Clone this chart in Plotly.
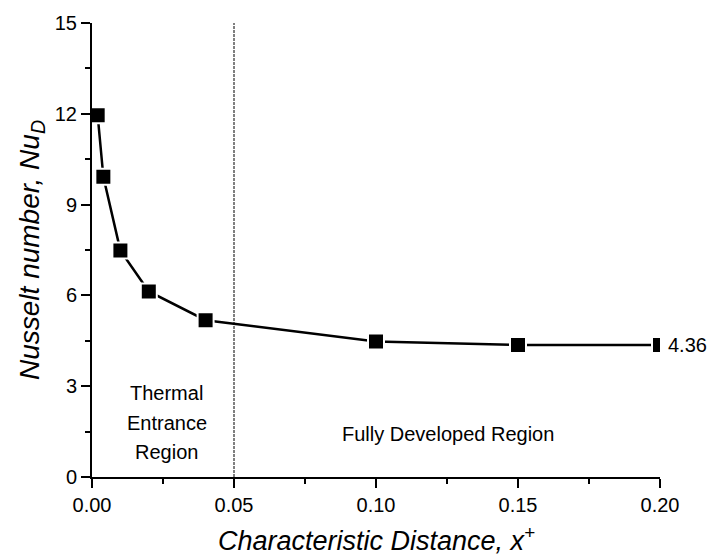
import plotly.graph_objects as go

# Data
x_plus = [0.002, 0.004, 0.01, 0.02, 0.04, 0.10, 0.15, 0.20]
nu_d = [11.95, 9.92, 7.48, 6.13, 5.18, 4.48, 4.36, 4.36]
x_ticks = [0.00, 0.05, 0.10, 0.15, 0.20]
x_tick_labels = ["0.00", "0.05", "0.10", "0.15", "0.20"]
y_ticks = [0, 3, 6, 9, 12, 15]
boundary_x = 0.05
nu_fully_developed = 4.36

FONT = "Liberation Sans, Arial, sans-serif"

fig = go.Figure()
fig.add_trace(go.Scatter(
    x=x_plus, y=nu_d, mode="lines+markers",
    line=dict(color="black", width=2.5),
    marker=dict(symbol="square", size=16, color="black",
                line=dict(color="white", width=2)),
    showlegend=False, cliponaxis=True,
))

fig.add_shape(type="line", x0=boundary_x, x1=boundary_x, y0=0, y1=15,
              xref="x", yref="y",
              line=dict(color="black", width=1, dash="3px,1px"))

annotations = [
    dict(x=0.0264, y=2.77, text="Thermal"),
    dict(x=0.0264, y=1.80, text="Entrance"),
    dict(x=0.0264, y=0.84, text="Region"),
    dict(x=0.1254, y=1.42, text="Fully Developed Region"),
]
for a in annotations:
    fig.add_annotation(x=a["x"], y=a["y"], text=a["text"], showarrow=False,
                       xref="x", yref="y", font=dict(size=20, color="black", family=FONT))

fig.add_annotation(x=x_plus[-1], y=nu_fully_developed, text=f"{nu_fully_developed:.2f}",
                   showarrow=False, xref="x", yref="y", xanchor="left", xshift=6,
                   font=dict(size=20, color="black", family=FONT))

fig.add_annotation(x=0.5, y=0, xref="paper", yref="paper", yshift=-62,
                   text="<i>Characteristic Distance, x<sup>+</sup></i>",
                   showarrow=False, yanchor="middle",
                   font=dict(size=27, color="black", family=FONT))
fig.add_annotation(x=0, y=0.5, xref="paper", yref="paper", xshift=-61,
                   text="<i>Nusselt number, Nu<sub>D</sub></i>", textangle=-90,
                   showarrow=False, xanchor="center", yanchor="middle",
                   font=dict(size=28, color="black", family=FONT))

fig.update_layout(
    width=716, height=557,
    margin=dict(l=92, r=56, t=21, b=80),
    plot_bgcolor="white", paper_bgcolor="white",
    font=dict(family=FONT, size=20, color="black"),
    xaxis=dict(range=[0, 0.2], tickvals=x_ticks, ticktext=x_tick_labels,
               showgrid=False, zeroline=False, showline=True, linecolor="black",
               linewidth=2, ticks="outside", ticklen=9, tickwidth=2,
               tickcolor="black",
               minor=dict(ticks="outside", ticklen=5, tickwidth=1.5, dtick=0.025,
                          tick0=0, tickcolor="black", showgrid=False)),
    yaxis=dict(range=[0, 15], tickvals=y_ticks,
               showgrid=False, zeroline=False, showline=True, linecolor="black",
               linewidth=2, ticks="outside", ticklen=9, tickwidth=2,
               tickcolor="black",
               minor=dict(ticks="outside", ticklen=5, tickwidth=1.5, dtick=1.5,
                          tick0=0, tickcolor="black", showgrid=False)),
)

fig.write_html("out.html")
